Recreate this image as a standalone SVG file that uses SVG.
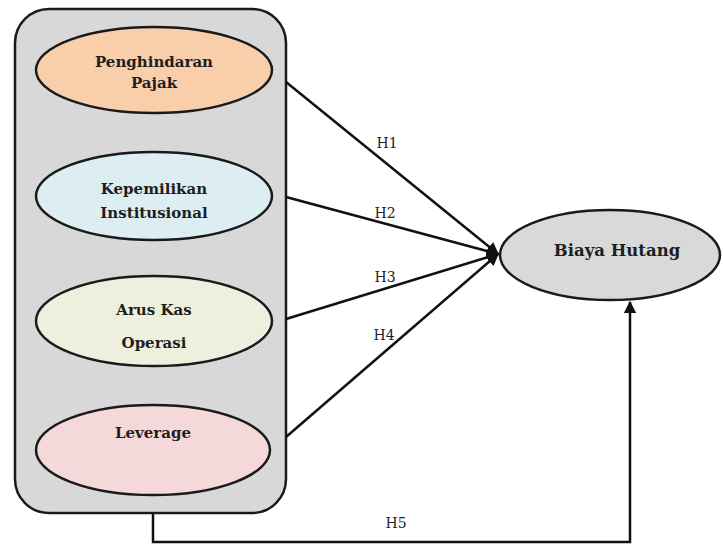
<svg xmlns="http://www.w3.org/2000/svg" width="723" height="545" viewBox="0 0 723 545">
<defs>
<style>
.box{fill:#d8d8d9;stroke:#1a1a1a;stroke-width:2.5}
.el{stroke:#1a1a1a;stroke-width:2.5}
.t{font-family:"DejaVu Serif","Liberation Serif",serif;font-weight:bold;font-size:15px;fill:#1e1e1e;text-anchor:middle}
.h{font-family:"DejaVu Serif","Liberation Serif",serif;font-size:14px;fill:#222;text-anchor:middle}
.c{fill:none;stroke:#111;stroke-width:2.5}
</style>
<marker id="ah" viewBox="0 0 10 10" refX="9" refY="5" markerWidth="5" markerHeight="5" orient="auto" markerUnits="strokeWidth">
<path d="M0,0 L10,5 L0,10 z" fill="#111"/>
</marker>
</defs>
<rect width="723" height="545" fill="#fff"/>
<g id="container">
<rect class="box" x="15" y="9" width="271" height="504" rx="34" ry="34"/>
</g>
<g id="penghindaran-pajak">
<ellipse class="el" cx="154" cy="70" rx="118" ry="43" fill="#f9cfab"/>
<text class="t" x="154" y="67">Penghindaran</text>
<text class="t" x="154" y="88">Pajak</text>
</g>
<g id="kepemilikan-institusional">
<ellipse class="el" cx="154" cy="196" rx="118" ry="44" fill="#ddeef3"/>
<text class="t" x="154" y="194">Kepemilikan</text>
<text class="t" x="154" y="218">Institusional</text>
</g>
<g id="arus-kas-operasi">
<ellipse class="el" cx="154" cy="321" rx="118" ry="45" fill="#eef0dd"/>
<text class="t" x="154" y="315">Arus Kas</text>
<text class="t" x="154" y="348">Operasi</text>
</g>
<g id="leverage">
<ellipse class="el" cx="153" cy="450" rx="117" ry="45" fill="#f4d8da"/>
<text class="t" x="153" y="438">Leverage</text>
</g>
<g id="biaya-hutang">
<ellipse class="el" cx="610" cy="255" rx="110" ry="45" fill="#d9d9d9"/>
<text class="t" x="617" y="256" style="font-size:16.5px">Biaya Hutang</text>
</g>
<g id="connectors">
<line class="c" x1="286" y1="82" x2="498" y2="254" marker-end="url(#ah)"/>
<line class="c" x1="286" y1="197" x2="498" y2="254" marker-end="url(#ah)"/>
<line class="c" x1="286" y1="319" x2="498" y2="254" marker-end="url(#ah)"/>
<line class="c" x1="286" y1="437" x2="498" y2="254" marker-end="url(#ah)"/>
<polyline class="c" points="153,513 153,542 630,542 630,302" marker-end="url(#ah)"/>
<text class="h" x="387" y="148">H1</text>
<text class="h" x="385" y="218">H2</text>
<text class="h" x="385" y="282">H3</text>
<text class="h" x="384" y="340">H4</text>
<text class="h" x="396" y="528">H5</text>
</g>
</svg>
